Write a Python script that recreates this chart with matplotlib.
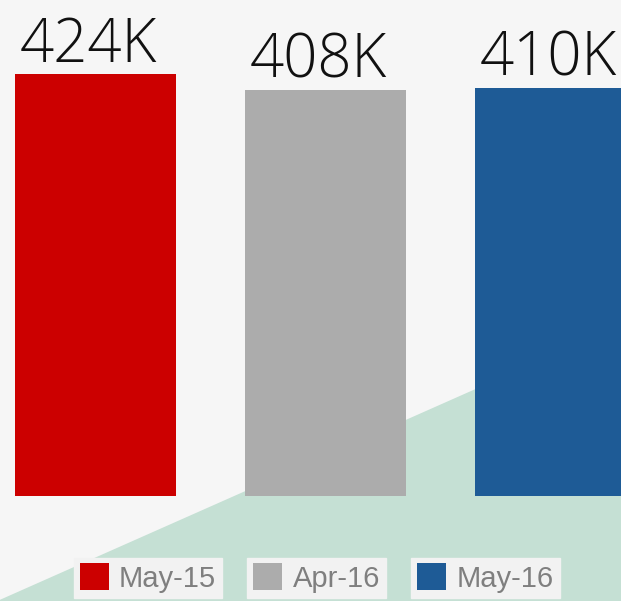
import matplotlib.pyplot as plt
from matplotlib.patches import Polygon, Patch

# data
periods = ['May-15', 'Apr-16', 'May-16']
values = [424, 408, 410]          # thousands
labels = ['424K', '408K', '410K']
colors = ['#cc0000', '#acacac', '#1e5b96']

fig = plt.figure(figsize=(6.21, 6.01), dpi=100)
fig.patch.set_facecolor('#f6f6f6')
ax = fig.add_axes([0, 0, 1, 1])
ax.set_facecolor('#f6f6f6')

# green diagonal backdrop
tri = Polygon([(0, 0.002), (1, 0.46), (1, 0), (0, 0)], closed=True,
              transform=ax.transAxes, facecolor='#c5e0d4', edgecolor='none', zorder=0)
ax.add_patch(tri)

x = list(range(len(values)))
ax.bar(x, values, width=0.7, color=colors, zorder=2)

for xi, v, lab in zip(x, values, labels):
    ax.annotate(lab, (xi, v), xytext=(-5, 9), textcoords='offset points',
                ha='center', va='baseline', fontsize=43, family='Open Sans',
                fontweight='light', color='#111111', zorder=3)

ax.set_xlim(-0.415, 2.285)
ax.set_ylim(-105.5, 498.5)
ax.axis('off')

# legend: one box per series
centers = [148, 316.5, 485.5]
for p, c, cx in zip(periods, colors, centers):
    leg = fig.legend(handles=[Patch(facecolor=c, edgecolor='none')], labels=[p],
                     loc='center', bbox_to_anchor=(cx / 621, 1 - 578 / 601),
                     frameon=True, fancybox=False, framealpha=1,
                     facecolor='#f2f2f2', edgecolor='#f2f2f2',
                     prop={'family': 'Liberation Sans', 'size': 21},
                     labelcolor='#7f7f7f', handlelength=1.0, handleheight=1.0,
                     handletextpad=0.35, borderpad=0.2, borderaxespad=0)

fig.savefig('out.png', dpi=100, facecolor=fig.get_facecolor())
